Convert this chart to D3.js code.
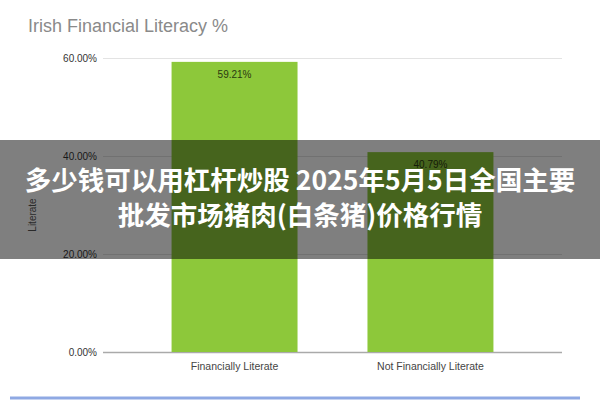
<!DOCTYPE html>
<html><head><meta charset="utf-8">
<script src="https://cdn.jsdelivr.net/npm/d3@7"></script>
<style>html,body{margin:0;padding:0;background:#fff;overflow:hidden}</style>
</head><body>
<script>
const categories = ["Financially Literate", "Not Financially Literate"];
const values = [59.21, 40.79];
const yTicks = [0, 20, 40, 60];
const title = "Irish Financial Literacy %";
const yLabel = "Literate";
const bannerLines = ["多少钱可以用杠杆炒股 2025年5月5日全国主要", "批发市场猪肉(白条猪)价格行情"];

const W = 600, H = 400;
const svg = d3.select("body").append("svg").attr("width", W).attr("height", H);

const x = d3.scaleBand().domain(categories).range([103, 562]).paddingInner(0.357).paddingOuter(0.35);
const y = d3.scaleLinear().domain([0, 60]).range([352, 58]);

svg.append("text").attr("x", 28).attr("y", 32).text(title)
  .attr("font-family", "Liberation Sans, Arial, sans-serif").attr("font-size", 18).attr("fill", "#8a8a8a");

const yAxis = svg.append("g").attr("transform", "translate(103,0)")
  .call(d3.axisLeft(y).tickValues(yTicks).tickSize(-459).tickPadding(6).tickFormat(d => d3.format(".2f")(d) + "%"));
yAxis.select(".domain").remove();
yAxis.selectAll(".tick line").attr("stroke", d => d === 0 ? "#aaa" : "#e3e3e3").attr("stroke-width", d => d === 0 ? 1.5 : 1);
yAxis.selectAll(".tick text").attr("font-family", "Liberation Sans Narrow, Arial, sans-serif").attr("font-size", 10).attr("fill", "#333");

svg.append("text").attr("transform", "translate(36,215) rotate(-90)").attr("text-anchor", "middle")
  .attr("font-family", "Liberation Sans Narrow, Arial, sans-serif").attr("font-size", 10).attr("fill", "#555").text(yLabel);

svg.selectAll("rect.bar").data(values).enter().append("rect").attr("class", "bar")
  .attr("x", (d, i) => x(categories[i])).attr("width", x.bandwidth())
  .attr("y", d => y(d)).attr("height", d => y(0) - y(d)).attr("fill", "#8dc83a");

svg.selectAll("text.val").data(values).enter().append("text").attr("class", "val")
  .attr("x", (d, i) => x(categories[i]) + x.bandwidth() / 2).attr("y", d => y(d) + 16)
  .attr("text-anchor", "middle").attr("font-family", "Liberation Sans Narrow, Arial, sans-serif")
  .attr("font-size", 10).attr("fill", "#2a3a10").text(d => d.toFixed(2) + "%");

const xAxis = svg.append("g").attr("transform", "translate(0,352)")
  .call(d3.axisBottom(x).tickSize(0).tickPadding(11));
xAxis.select(".domain").remove();
xAxis.selectAll(".tick text").attr("font-family", "Liberation Sans Narrow, Arial, sans-serif").attr("font-size", 10.5).attr("fill", "#444");

svg.append("line").attr("x1", 10).attr("x2", 580).attr("y1", 398).attr("y2", 398).attr("stroke", "#8fa9e3").attr("stroke-width", 3);

svg.append("rect").attr("x", 0).attr("y", 140).attr("width", W).attr("height", 119).attr("fill", "rgba(0,0,0,0.5)");
svg.selectAll("text.banner").data(bannerLines).enter().append("text").attr("class", "banner")
  .attr("x", 300).attr("y", (d, i) => 190 + i * 35).attr("text-anchor", "middle")
  .attr("font-family", "Noto Sans CJK SC, sans-serif").attr("font-weight", "bold").attr("font-size", 26.5)
  .attr("fill", "#fff").text(d => d);
</script>
</body></html>
